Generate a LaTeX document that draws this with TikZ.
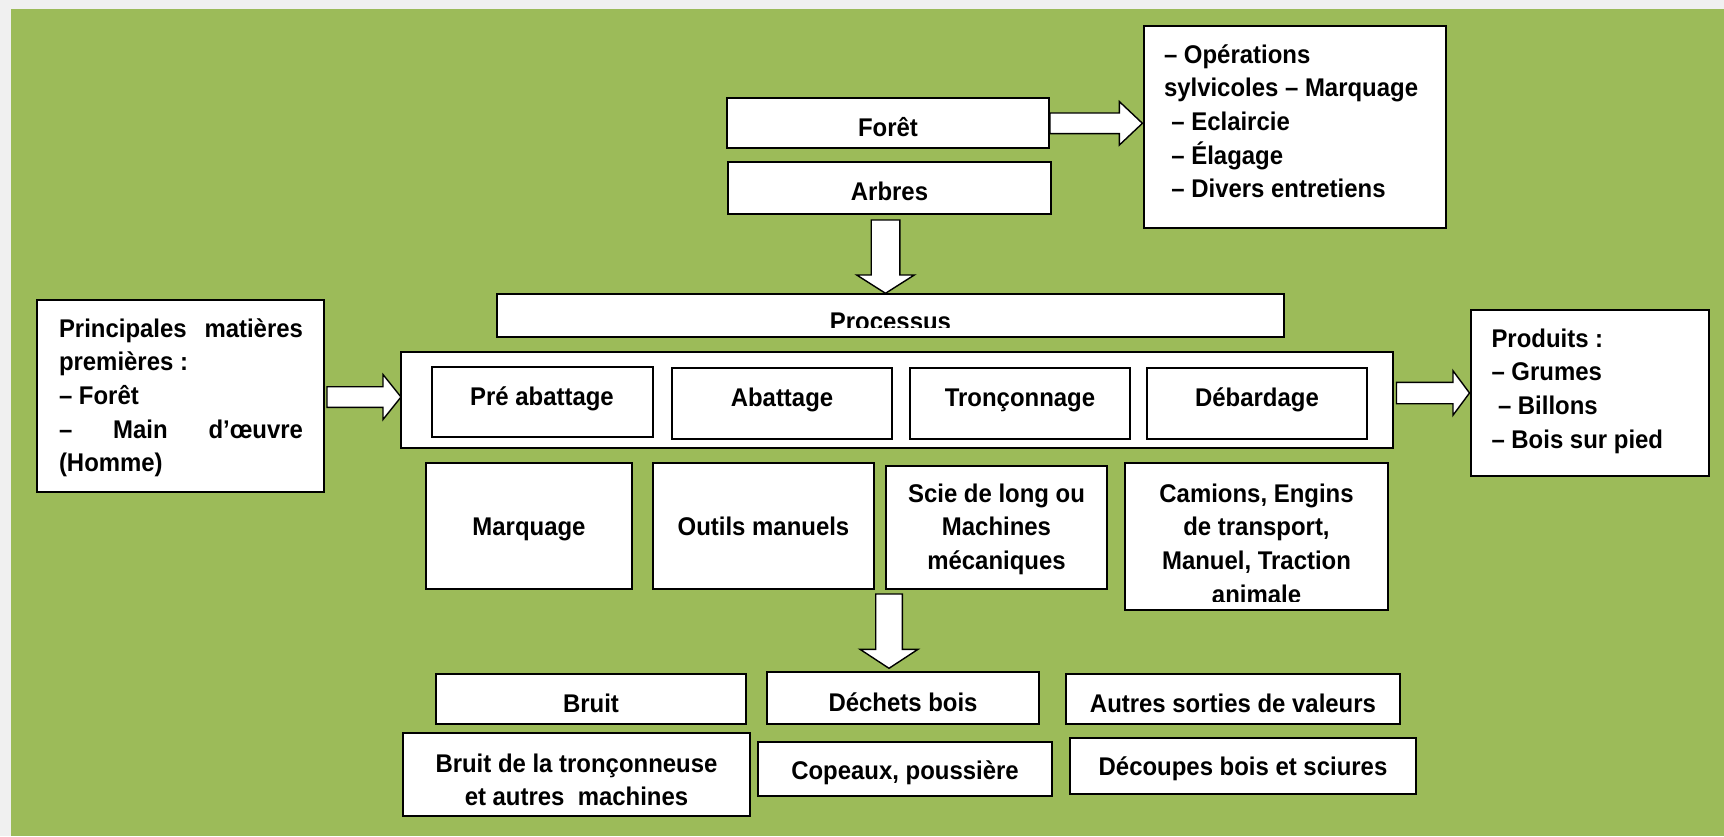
\documentclass[tikz,border=0pt]{standalone}
\usepackage{fontspec}
\setmainfont[FakeStretch=0.935]{Liberation Sans}
\usetikzlibrary{calc}
\definecolor{bggrey}{RGB}{240,240,240}
\definecolor{leaf}{RGB}{156,187,89}
\tikzset{
  box/.style={draw=black, fill=white, line width=1pt, inner sep=0pt, outer sep=0pt,
    font=\fontsize{12.8pt}{16.85pt}\selectfont\bfseries},
  txt/.style={inner sep=0pt, outer sep=0pt, font=\fontsize{12.8pt}{16.85pt}\selectfont\bfseries},
  barrow/.style={draw=black, fill=white, line width=0.7pt, line join=miter},
}
% box from (x1,y1) to (x2,y2) in px, first baseline at yb
\newcommand\bx[7]{%
  \pgfmathsetlengthmacro\bxw{(#4-#2)*0.5pt}%
  \pgfmathsetlengthmacro\bxh{(#6-#3)*0.5pt}%
  \pgfmathsetlengthmacro\bxd{(#5-#6)*0.5pt}%
  \pgfmathsetmacro\bxc{(#2+#4)/2}%
  \node[box, minimum width=\bxw, text height=\bxh, text depth=\bxd, anchor=base] (#1) at (\bxc,#6) {#7};}
\newcommand\rows[2]{\begin{tabular}[t]{@{}#1@{}}#2\end{tabular}}
\newcommand\lft[2]{\makebox[\bxw][l]{\hspace{#1}\rows{l}{#2}}}
% horizontal block arrow: start, tip, shaft half, head half, head length (px)
\newcommand\harrow[5]{%
  \draw[barrow] let \p1=#1, \p2=#2 in
    (\x1,{\y2+#3*0.5pt}) -- ({\x2-#5*0.5pt},{\y2+#3*0.5pt}) -- ({\x2-#5*0.5pt},{\y2+#4*0.5pt})
    -- (\x2,\y2) -- ({\x2-#5*0.5pt},{\y2-#4*0.5pt}) -- ({\x2-#5*0.5pt},{\y2-#3*0.5pt})
    -- (\x1,{\y2-#3*0.5pt}) -- cycle;}
% vertical block arrow (downwards)
\newcommand\varrow[5]{%
  \draw[barrow] let \p1=#1, \p2=#2 in
    ({\x2-#3*0.5pt},\y1) -- ({\x2-#3*0.5pt},{\y2+#5*0.5pt}) -- ({\x2-#4*0.5pt},{\y2+#5*0.5pt})
    -- (\x2,\y2) -- ({\x2+#4*0.5pt},{\y2+#5*0.5pt}) -- ({\x2+#3*0.5pt},{\y2+#5*0.5pt})
    -- ({\x2+#3*0.5pt},\y1) -- cycle;}
\begin{document}
\begin{tikzpicture}[x=0.5pt, y=-0.5pt]
\useasboundingbox (0,0) rectangle (1724,836);
\fill[bggrey] (0,0) rectangle (1724,836);
\fill[leaf] (11,9) rectangle (1724,836);

\bx{foret}{727}{98}{1049}{148}{136.5}{Forêt}
\bx{arbres}{728}{162}{1051}{214}{200}{Arbres}
\bx{ops}{1144}{26}{1446}{228}{63}{\lft{10pt}{– Opérations\\sylvicoles – Marquage\\\hspace{3.7pt}– Eclaircie\\\hspace{3.7pt}– Élagage\\\hspace{3.7pt}– Divers entretiens}}
\bx{proc}{497}{294}{1284}{337}{330}{}
\begin{scope}
  \clip (497,294) rectangle (1284,327.7);
  \node[txt, anchor=base] (proctext) at (proc.base) {Processus};
\end{scope}
\bx{cont}{401}{352}{1392.5}{448}{400}{}
\bx{pre}{431.5}{367}{652.5}{437}{405}{Pré abattage}
\bx{abat}{672}{368}{892}{439}{406}{Abattage}
\bx{tronc}{910}{368}{1130}{439}{406}{Tronçonnage}
\bx{debard}{1147}{368}{1367}{439}{406}{Débardage}
\bx{princ}{37}{300}{324}{492}{337}{\lft{11pt}{\makebox[122pt][s]{Principales matières}\\premières :\\– Forêt\\\makebox[122pt][s]{– Main d’œuvre}\\(Homme)}}
\bx{prod}{1471}{310}{1709}{476}{347}{\lft{10.25pt}{Produits :\\– Grumes\\\hspace{3.25pt}– Billons\\– Bois sur pied}}
\bx{marq}{426}{463}{632}{589}{535}{Marquage}
\bx{outils}{653}{463}{874}{589}{535}{Outils manuels}
\bx{scie}{886}{466}{1107}{589}{502}{\rows{c}{Scie de long ou\\Machines\\mécaniques}}
\bx{camions}{1125}{463}{1388}{610}{502}{}
\begin{scope}
  \clip (1125,463) rectangle (1388,601.5);
  \node[txt, anchor=base] (camtext) at (camions.base) {\rows{c}{Camions, Engins\\de transport,\\Manuel, Traction\\animale}};
\end{scope}
\bx{bruit}{436}{674}{746}{724}{712}{Bruit}
\bx{bruitm}{403}{733}{750}{816}{772}{\rows{c}{Bruit de la tronçonneuse\\et autres\ \ machines}}
\bx{dechets}{767}{672}{1039}{724}{711}{Déchets bois}
\bx{autres}{1066}{674}{1400}{724}{712}{Autres sorties de valeurs}
\bx{copeaux}{758}{742}{1052}{796}{779}{Copeaux, poussière}
\bx{decoupes}{1070}{738}{1416}{794}{775}{Découpes bois et sciures}

% block arrows
\harrow{($(foret.east)+(1,0)$)}{($(ops.west|-foret.east)+(-1.6,0.3)$)}{10.3}{21.7}{23}
\harrow{($(princ.east)+(3,1)$)}{($(cont.west|-princ.east)+(0,1)$)}{10.3}{22.5}{18}
\harrow{($(cont.east|-prod.west)+(4,0)$)}{($(prod.west)+(-1.5,0)$)}{10.7}{22.2}{16.5}
\varrow{($(arbres.south)+(-4,6)$)}{($(proc.north-|arbres.south)+(-4,-0.7)$)}{14.3}{28.8}{18.3}
\varrow{($(scie.south west)+(3,5)$)}{($(dechets.north-|scie.south west)+(3,-3.7)$)}{13.3}{29}{19}
\end{tikzpicture}
\end{document}
